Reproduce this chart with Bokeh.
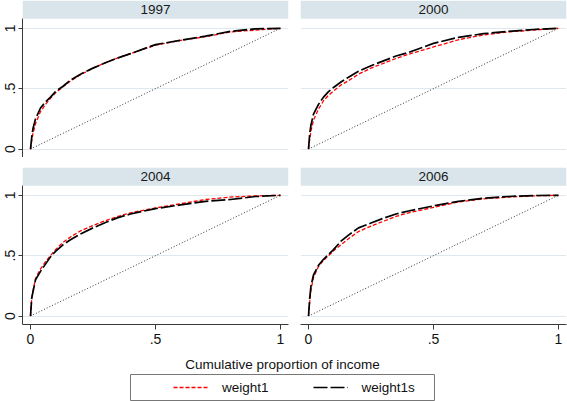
from bokeh.plotting import figure
from bokeh.models import Range1d, FixedTicker, BoxAnnotation, Label, Legend, LegendItem
from bokeh.layouts import column, row
from bokeh.embed import file_html
from bokeh.resources import INLINE

# ---------------- data ----------------
years = ["1997", "2000", "2004", "2006"]
income_share = [0, 0.005, 0.01, 0.02, 0.04, 0.06, 0.08, 0.10, 0.13, 0.16, 0.20,
                0.25, 0.30, 0.35, 0.40, 0.50, 0.60, 0.70, 0.80, 0.90, 1.0]

weight1s_1997 = [0, .10, .17, .25, .34, .39, .43, .475, .52, .57, .62, .67, .715, .755, .79, .865, .90, .935, .975, .995, 1]
weight1_1997 = [0, .07, .13, .21, .31, .37, .42, .465, .515, .565, .615, .67, .715, .755, .79, .86, .90, .93, .97, .985, 1]

weight1s_2000 = [0, .13, .20, .29, .37, .43, .475, .51, .555, .595, .645, .69, .73, .77, .80, .875, .925, .955, .975, .99, 1]
weight1_2000 = [0, .08, .15, .24, .33, .40, .445, .48, .53, .566, .62, .67, .71, .75, .785, .845, .905, .945, .97, .985, 1]

weight1s_2004 = [0, .15, .20, .30, .37, .43, .49, .535, .59, .632, .68, .73, .775, .815, .845, .89, .92, .95, .965, .99, 1]
weight1_2004 = [0, .15, .21, .31, .39, .45, .50, .55, .61, .655, .705, .75, .79, .825, .855, .895, .93, .965, .985, .995, 1]

weight1s_2006 = [0, .15, .25, .34, .42, .47, .51, .55, .62, .67, .73, .77, .81, .845, .87, .912, .95, .975, .99, .998, 1]
weight1_2006 = [0, .12, .22, .32, .41, .46, .50, .54, .59, .64, .70, .745, .785, .825, .855, .90, .945, .97, .985, .995, 1]

equality_line = [0, 1]
tick_values = [0, 0.5, 1]
tick_labels = ["0", ".5", "1"]
x_title = "Cumulative proportion of income"
series_names = ["weight1", "weight1s"]

# ---------------- styling ----------------
FONT = "Liberation Sans"
HDR_COLOR = "#d9e5eb"
GRID_COLOR = "#dfe9ed"
AXIS_COLOR = "#3a3a3a"
X_MIN, X_MAX = -0.032, 1.032
Y_MIN, HDR_BOTTOM, Y_MAX = -0.07, 1.078, 1.23
RED_DASH, BLACK_DASH = "4 2", "14 3"
FS = "13.5px"

overrides = {v: s for v, s in zip(tick_values, tick_labels)}


def panel(year, w1, w1s, show_y, show_x, width, height, bl, br, bt, bb):
    p = figure(width=width, height=height,
               x_range=Range1d(X_MIN, X_MAX), y_range=Range1d(Y_MIN, Y_MAX),
               x_axis_location="below" if show_x else None,
               y_axis_location="left" if show_y else None,
               min_border_left=bl, min_border_right=br,
               min_border_top=bt, min_border_bottom=bb,
               output_backend="svg", toolbar_location=None)
    p.outline_line_color = None
    p.background_fill_color = "white"
    p.xgrid.visible = False
    p.ygrid.ticker = FixedTicker(ticks=tick_values)
    p.ygrid.grid_line_color = GRID_COLOR
    p.ygrid.grid_line_width = 1

    for ax in list(p.xaxis) + list(p.yaxis):
        ax.ticker = FixedTicker(ticks=tick_values)
        ax.major_label_overrides = overrides
        ax.axis_line_color = AXIS_COLOR
        ax.major_tick_line_color = AXIS_COLOR
        ax.minor_tick_line_color = None
        ax.major_tick_in = 0
        ax.major_tick_out = 5
        ax.major_label_text_font = FONT
        ax.major_label_text_font_size = "14px"
        ax.major_label_text_color = "#111111"
    for ax in p.yaxis:
        ax.major_label_orientation = "vertical"
        ax.major_label_standoff = 3
        ax.major_tick_out = 4
        ax.bounds = (Y_MIN, HDR_BOTTOM)
    for ax in p.xaxis:
        ax.major_label_standoff = 4

    # header strip with the year
    p.add_layout(BoxAnnotation(bottom=HDR_BOTTOM, fill_color=HDR_COLOR, fill_alpha=1,
                               line_alpha=0))
    p.add_layout(Label(x=(X_MIN + X_MAX) / 2, y=(HDR_BOTTOM + Y_MAX) / 2, text=year,
                       text_align="center", text_baseline="middle",
                       text_font=FONT, text_font_size=FS, text_color="#1a1a1a"))

    p.line(equality_line, equality_line, line_color="#333333", line_dash="1 2", line_width=1)
    p.line(income_share, w1, line_color="#ff0000", line_dash=RED_DASH, line_width=1.3)
    p.line(income_share, w1s, line_color="black", line_dash=BLACK_DASH, line_width=1.7)
    return p


p1 = panel(years[0], weight1_1997, weight1s_1997, True, False, 294, 157, 22, 6, 0, 0)
p2 = panel(years[1], weight1_2000, weight1s_2000, False, False, 273, 157, 6, 1, 0, 0)
p3 = panel(years[2], weight1_2004, weight1s_2004, True, True, 294, 191, 22, 6, 10, 24)
p4 = panel(years[3], weight1_2006, weight1s_2006, False, True, 273, 191, 6, 1, 10, 24)

# ---------------- axis title + legend ----------------
# y range placed away from the data so the key lines only serve as legend swatches
leg = figure(width=567, height=53, x_range=Range1d(0, 1), y_range=Range1d(5, 6),
             x_axis_location=None, y_axis_location=None,
             min_border_left=130, min_border_right=133, min_border_top=26, min_border_bottom=1,
             title=x_title, output_backend="svg", toolbar_location=None)
leg.grid.visible = False
leg.outline_line_color = "#777777"
leg.outline_line_width = 1
leg.title.align = "center"
leg.title.text_font = FONT
leg.title.text_font_size = FS
leg.title.text_font_style = "normal"
leg.title.text_color = "#111111"
leg.title.standoff = 5
leg.title.offset = 8

r1 = leg.line(income_share, weight1_1997, line_color="#ff0000", line_dash=RED_DASH, line_width=1.3)
r2 = leg.line(income_share, weight1s_1997, line_color="black", line_dash=BLACK_DASH, line_width=1.7)
legend = Legend(items=[LegendItem(label=series_names[0], renderers=[r1]),
                       LegendItem(label=series_names[1], renderers=[r2])],
                orientation="horizontal", location=(43, 5),
                padding=0, margin=0, spacing=44, glyph_width=35, glyph_height=16,
                label_standoff=14, label_text_font=FONT, label_text_font_size=FS,
                label_text_color="#111111",
                border_line_alpha=0, background_fill_alpha=0)
leg.add_layout(legend, "center")

layout = column(row(p1, p2), row(p3, p4), leg)

with open("out.html", "w") as f:
    f.write(file_html(layout, INLINE))
